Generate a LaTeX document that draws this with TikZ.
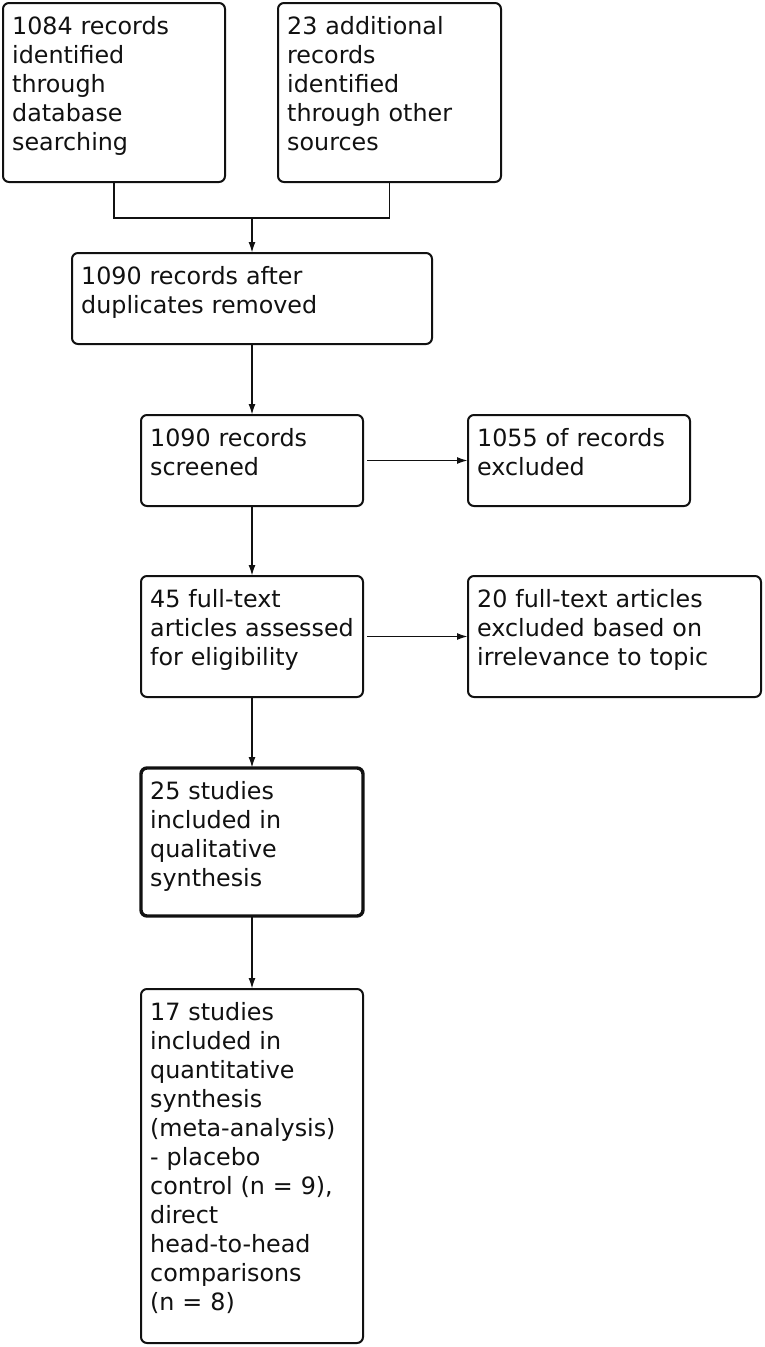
\documentclass[tikz,border=0pt]{standalone}
\usepackage{fontspec}
\setmainfont{DejaVu Sans}
\usetikzlibrary{arrows.meta}
\definecolor{ink}{HTML}{111111}
\tikzset{
  frame/.style={draw=ink, line width=2pt, rounded corners=6pt, inner sep=0pt, outer sep=0pt, anchor=north west, fill=white},
  thickframe/.style={frame, line width=3.4pt},
  txt/.style={anchor=base west, inner sep=0pt, align=left, text=ink,
    font=\fontsize{23.8pt}{29pt}\selectfont},
  conn/.style={draw=ink, line width=1.8pt},
  arr/.style={conn, -{Latex[length=11pt,width=7pt]}}
}
\newcommand{\flowbox}[7]{%
  % #1 name, #2 style, #3 x1, #4 y1, #5 x2, #6 y2, #7 text
  \node[#2, minimum width={(#5)-(#3)}, minimum height={(#6)-(#4)}] (#1) at (#3,#4) {};
  \node[txt, text width={(#5)-(#3)-18}] (#1-t) at ({#3+9},{#4+31}) {#7};
}
\begin{document}
\begin{tikzpicture}[x=1pt,y=-1pt]
\useasboundingbox[fill=white] (0,0) rectangle (764,1347);
\flowbox{A}{frame}{3}{3}{225}{182}{1084 records\\identified\\through\\database\\searching}
\flowbox{B}{frame}{278}{3}{501}{182}{23 additional\\records\\identified\\through other\\sources}
\flowbox{C}{frame}{72}{253}{432}{344}{1090 records after\\duplicates removed}
\flowbox{D}{frame}{141}{415}{363}{506}{1090 records\\screened}
\flowbox{E}{frame}{468}{415}{690}{506}{1055 of records\\excluded}
\flowbox{F}{frame}{141}{576}{363}{697}{45 full-text\\articles assessed\\for eligibility}
\flowbox{G}{frame}{468}{576}{761}{697}{20 full-text articles\\excluded based on\\irrelevance to topic}
\flowbox{H}{thickframe}{141}{768}{363}{916}{25 studies\\included in\\qualitative\\synthesis}
\flowbox{I}{frame}{141}{989}{363}{1343}{17 studies\\included in\\quantitative\\synthesis\\(meta-analysis)\\- placebo\\control (n = 9),\\direct\\head-to-head\\comparisons\\(n = 8)}
\coordinate (merge) at (C.north |- 0,218);
\draw[conn] (A.south) |- (merge) -| (B.south);
\draw[arr] (merge) -- (C.north);
\draw[arr] (C.south) -- (D.north);
\draw[arr, shorten <=4pt] (D.east) -- (E.west);
\draw[arr] (D.south) -- (F.north);
\draw[arr, shorten <=4pt] (F.east) -- (G.west);
\draw[arr] (F.south) -- (H.north);
\draw[arr] (H.south) -- (I.north);
\end{tikzpicture}
\end{document}
